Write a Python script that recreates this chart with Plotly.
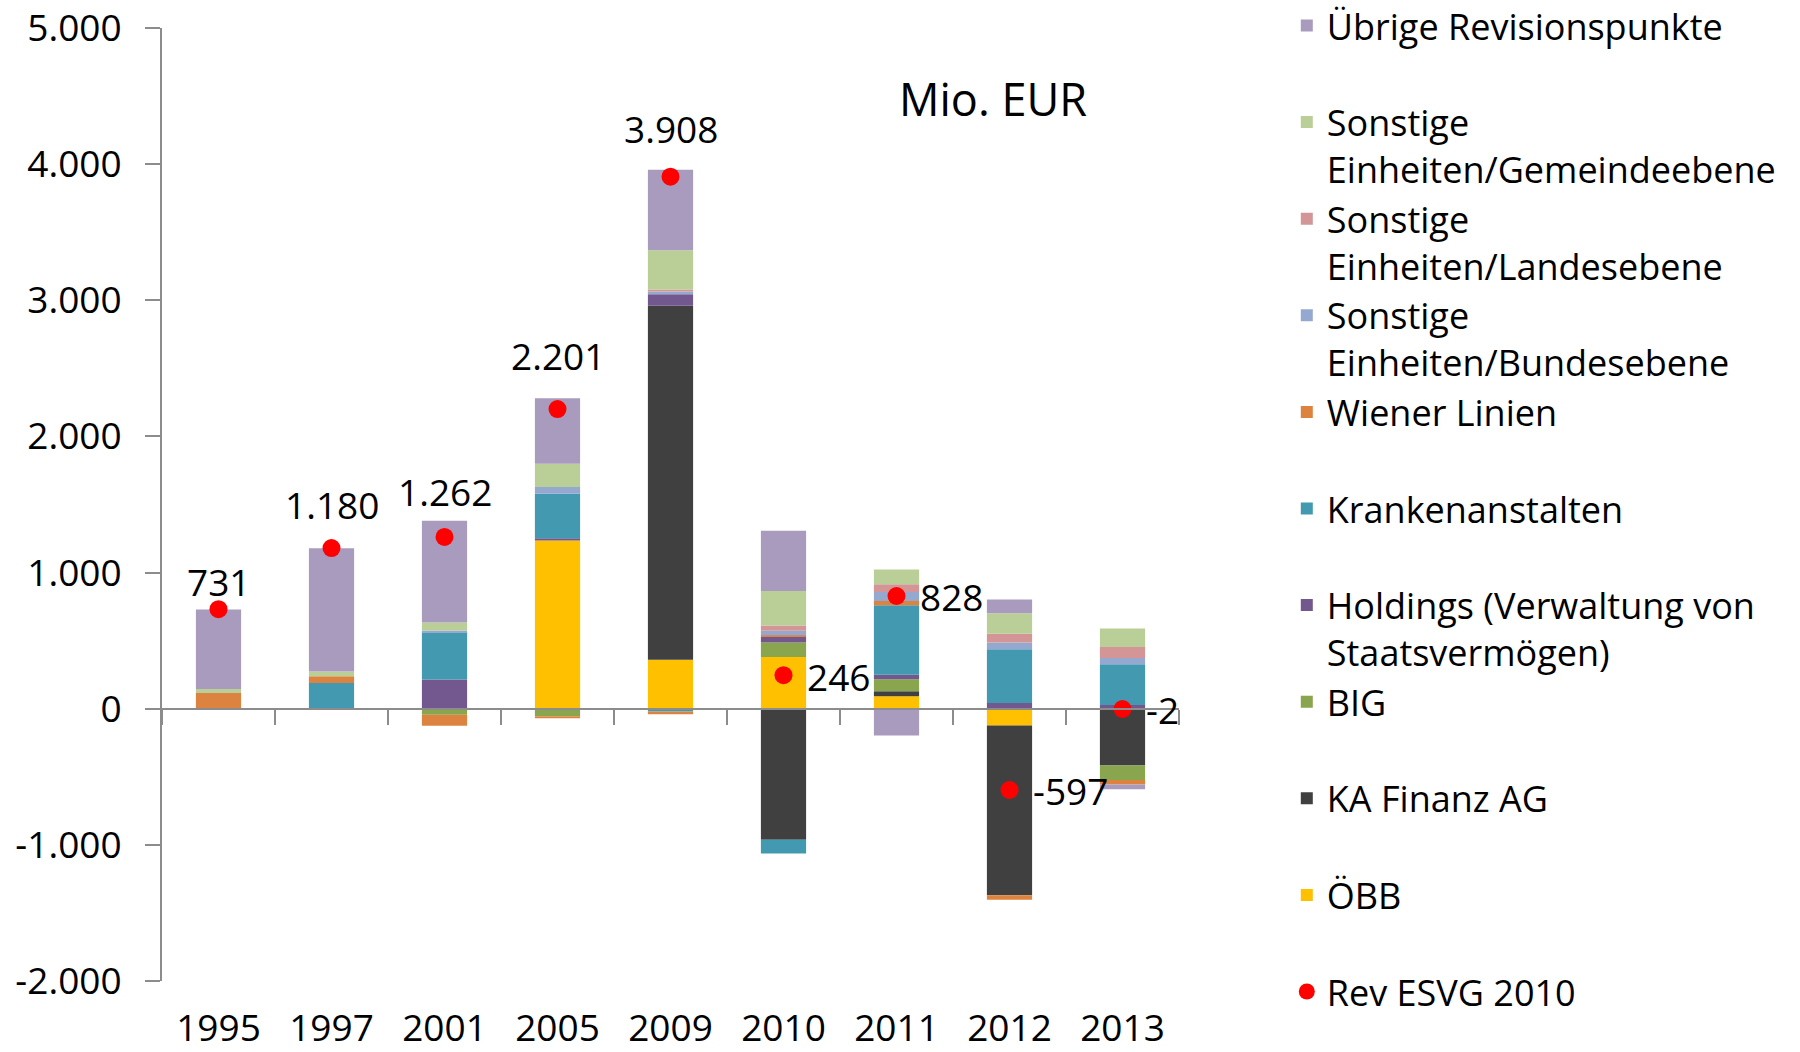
import plotly.graph_objects as go

YEARS = ["1995", "1997", "2001", "2005", "2009", "2010", "2011", "2012", "2013"]

# Mio. EUR per Einheit
OEBB = [0, 0, 0, 1235, 360, 380, 91, -123, 0]
KA_FINANZ = [0, 0, 0, 0, 2599, -962, 37, -1247, -417]
BIG = [0, 0, -44, -55, 0, 106, 88, 0, -106]
HOLDINGS = [0, 0, 215, 18, 85, 42, 34, 42, 27]
KRANKENANSTALTEN = [0, 188, 347, 326, -20, -101, 510, 395, 299]
WIENER_LINIEN = [115, 51, -81, -15, -20, 12, 32, -34, -34]
SONST_BUND = [0, 0, 12, 49, 21, 32, 66, 49, 47]
SONST_LAND = [0, 0, 0, 0, 15, 39, 56, 64, 81]
SONST_GEMEINDE = [29, 34, 59, 171, 287, 253, 108, 152, 135]
UEBRIGE = [584, 905, 748, 482, 592, 444, -196, 101, -34]

REV_ESVG = [731, 1180, 1262, 2201, 3908, 246, 828, -597, -2]

Y_TICKS = [-2000, -1000, 0, 1000, 2000, 3000, 4000, 5000]
Y_TICK_LABELS = ["-2.000", "-1.000", "0", "1.000", "2.000", "3.000", "4.000", "5.000"]

FONT = "Open Sans"
PAD = "<br>\u00a0"

# bottom to top in the stack, with legend name and colour
series = [
    ("ÖBB" + PAD, OEBB, "#FFC000"),
    ("KA Finanz AG" + PAD, KA_FINANZ, "#404040"),
    ("BIG" + PAD, BIG, "#89A54E"),
    ("Holdings (Verwaltung von<br>Staatsvermögen)", HOLDINGS, "#72588E"),
    ("Krankenanstalten" + PAD, KRANKENANSTALTEN, "#4299B0"),
    ("Wiener Linien" + PAD, WIENER_LINIEN, "#DC843F"),
    ("Sonstige<br>Einheiten/Bundesebene", SONST_BUND, "#95A9D0"),
    ("Sonstige<br>Einheiten/Landesebene", SONST_LAND, "#D39595"),
    ("Sonstige<br>Einheiten/Gemeindeebene", SONST_GEMEINDE, "#BACF97"),
    ("Übrige Revisionspunkte" + PAD, UEBRIGE, "#A99BBD"),
]

fig = go.Figure()
n = len(series)
for i, (name, vals, color) in enumerate(series):
    fig.add_trace(go.Bar(
        x=YEARS, y=vals, name=name,
        marker=dict(color=color, line=dict(width=0)),
        legendrank=n - i,
    ))

fig.add_trace(go.Scatter(
    x=YEARS, y=REV_ESVG, name="Rev ESVG 2010",
    mode="markers", cliponaxis=False,
    marker=dict(color="#FF0000", size=18),
    legendrank=n + 1,
))

# invisible twin on the zero-line axis so it draws its ticks
fig.add_trace(go.Scatter(x=YEARS, y=[None] * len(YEARS), xaxis="x2",
                         showlegend=False, hoverinfo="skip"))

# value labels: first five above the dot, the rest to its right
# (x given as category index, the year strings would be read as numbers)
label_dy = [28, 44, 45, 54, 48]
for i, v in enumerate(REV_ESVG):
    txt = f"{v:,}".replace(",", ".")
    if i < len(label_dy):
        pos = dict(xanchor="center", yanchor="middle", yshift=label_dy[i])
    else:
        pos = dict(xanchor="left", yanchor="middle", xshift=21, yshift=-1)
    fig.add_annotation(x=i, y=v, text=txt, showarrow=False,
                       font=dict(family=FONT, size=37, color="black"), **pos)

fig.add_annotation(
    text="Mio. EUR", x=0.817, y=0.926, xref="paper", yref="paper",
    xanchor="center", yanchor="middle",
    showarrow=False, font=dict(family=FONT, size=45),
)

cat_range = [-0.5, len(YEARS) - 0.5]

fig.update_layout(
    width=1800, height=1052,
    barmode="relative", bargap=0.6,
    plot_bgcolor="white", paper_bgcolor="white",
    font=dict(family=FONT, size=37, color="black"),
    margin=dict(l=162, r=621, t=28, b=71, autoexpand=False),
    xaxis=dict(
        type="category", range=cat_range, showline=False, ticks="",
        showgrid=False, tickfont=dict(size=37), ticklabelstandoff=22,
    ),
    xaxis2=dict(
        type="category", matches="x", overlaying="x", anchor="free",
        position=2000 / 7000, side="bottom",
        showline=True, linecolor="#8C8C8C", linewidth=2,
        ticks="outside", tickson="boundaries", ticklen=15, tickwidth=2,
        tickcolor="#8C8C8C", showticklabels=False, showgrid=False,
    ),
    yaxis=dict(
        range=[-2000, 5000], tickvals=Y_TICKS, ticktext=Y_TICK_LABELS,
        showline=True, linecolor="#8C8C8C", linewidth=2,
        ticks="outside", ticklen=15, tickwidth=2, tickcolor="#8C8C8C",
        showgrid=False, zeroline=False, tickfont=dict(size=37),
        ticklabelstandoff=16,
    ),
    legend=dict(
        x=1.106, y=1.034, xanchor="left", yanchor="top",
        traceorder="normal", valign="top", maxheight=1,
        font=dict(family=FONT, size=36), itemwidth=30,
    ),
)

# drop the default page margin so the figure starts at the window corner
fig.write_html(
    "out.html",
    config={"displayModeBar": False},
    post_script="document.body.style.margin = '0';",
)
